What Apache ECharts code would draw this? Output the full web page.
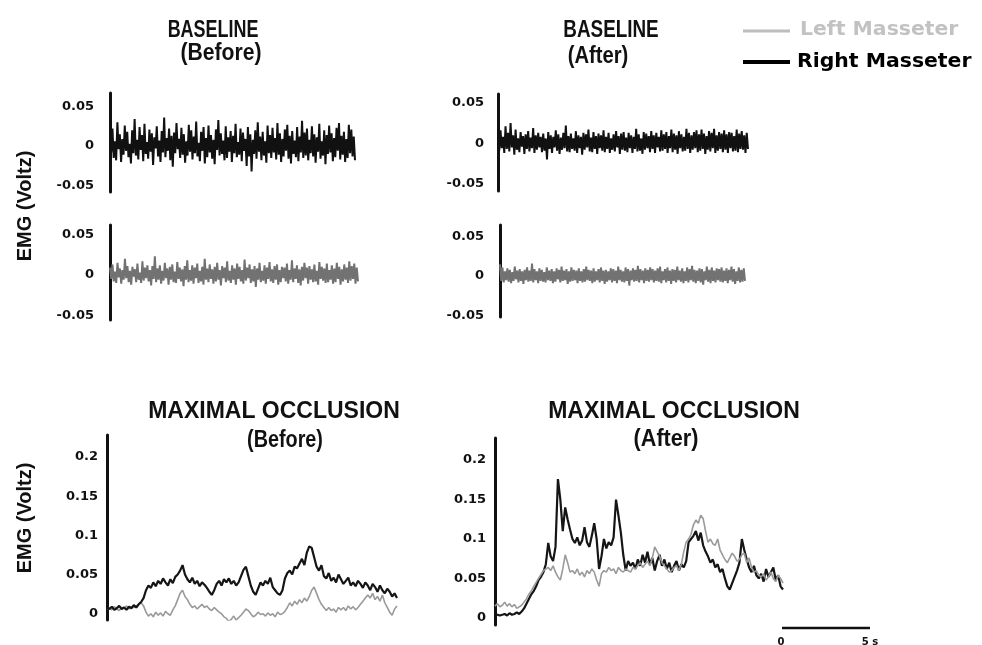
<!DOCTYPE html>
<html>
<head>
<meta charset="utf-8">
<script src="https://cdn.jsdelivr.net/npm/echarts@6/dist/echarts.min.js"></script>
<style>
  html, body { margin: 0; background: #fff; }
  #main { width: 982px; height: 645px; }
</style>
</head>
<body>
<div id="main"></div>
<script>
// EMG traces, values in mV (axis labels show volts)
const rightBaseBefore = [
  12,-8,22,-15,6,-18,30,-4,15,-20,9,-11,26,-6,18,-14,3,-22,20,-9,
  34,-12,8,-17,24,-5,14,-19,28,-10,5,-16,21,-7,16,-24,11,-3,25,-13,
  7,-20,19,-8,36,-14,10,-6,22,-18,13,-26,17,-9,29,-4,9,-15,23,-11,
  15,-21,6,-12,27,-7,20,-17,12,-9,31,-13,4,-19,18,-6,24,-22,10,-14,
  26,-8,14,-16,8,-23,21,-5,33,-12,16,-10,7,-18,25,-15,11,-7,19,-20,
  13,-9,28,-14,5,-11,22,-19,17,-6,9,-25,24,-13,15,-32,8,-10,20,-16,
  30,-7,12,-18,18,-12,6,-21,26,-9,14,-15,23,-8,10,-17,29,-11,16,-20,
  9,-13,21,-6,27,-16,13,-22,19,-10,7,-14,24,-19,12,-8,32,-15,17,-12,
  22,-18,8,-9,25,-13,15,-21,11,-7,28,-16,6,-12,20,-23,14,-10,26,-8,
  16,-19,10,-14,23,-6,29,-17,13,-11,18,-20,9,-15,27,-9,21,-13,12,-18
];
const leftBaseBefore = [
  9,-5,13,-8,4,-10,15,-3,8,-11,6,-6,20,-4,11,-9,5,-12,10,-2,
  7,-9,14,-6,3,-10,17,-7,9,-4,12,-8,6,-13,11,-5,23,-9,8,-6,
  12,-11,5,-7,15,-4,8,-12,10,-6,13,-9,4,-10,16,-5,9,-8,7,-14,
  11,-6,18,-9,6,-7,12,-11,9,-4,14,-10,5,-8,10,-12,20,-6,8,-9,
  13,-5,7,-11,10,-8,15,-6,6,-13,11,-4,9,-9,17,-7,5,-10,12,-6,
  8,-12,14,-5,10,-8,6,-11,19,-7,9,-4,13,-10,7,-8,11,-15,8,-6,
  15,-9,5,-7,12,-11,9,-5,16,-8,7,-10,11,-6,13,-12,6,-9,10,-4,
  9,-8,14,-11,6,-6,18,-9,8,-5,12,-10,7,-13,10,-7,15,-4,9,-11,
  11,-6,7,-9,13,-8,5,-12,16,-5,10,-7,8,-10,14,-9,6,-6,12,-11,
  8,-9,15,-5,10,-12,7,-8,13,-6,9,-10,17,-7,11,-5,14,-11,9,-8
];
const rightBaseAfter = [
  12,-9,16,-6,8,-12,21,-7,13,-10,25,-5,10,-14,17,-8,6,-11,14,-4,
  9,-13,11,-7,15,-10,7,-6,19,-12,10,-8,13,-5,8,-11,12,-9,6,-20,
  14,-7,10,-12,8,-5,16,-9,11,-13,7,-8,13,-6,22,-10,9,-11,12,-7,
  6,-9,15,-12,10,-6,8,-14,13,-8,11,-5,17,-10,7,-11,14,-7,9,-13,
  12,-6,10,-9,16,-11,8,-7,13,-12,6,-8,11,-10,15,-5,9,-13,12,-8,
  14,-9,7,-11,13,-6,10,-12,8,-7,18,-10,11,-9,6,-13,14,-8,12,-6,
  9,-11,15,-7,10,-12,13,-5,8,-10,16,-9,11,-7,14,-12,9,-6,17,-11,
  12,-8,10,-13,15,-6,11,-10,8,-9,18,-7,13,-12,10,-8,14,-6,16,-11,
  11,-9,17,-7,12,-13,9,-8,15,-10,13,-6,18,-12,10,-9,14,-7,12,-11,
  16,-8,11,-12,14,-6,13,-10,9,-9,17,-11,12,-7,15,-8,10,-12,13,-7
];
const leftBaseAfter = [
  15,-6,11,-8,6,-5,10,-7,8,-9,5,-6,12,-4,7,-8,9,-6,6,-10,
  8,-5,11,-7,7,-6,16,-8,9,-5,6,-9,10,-6,8,-7,5,-8,11,-5,
  7,-6,9,-9,6,-7,10,-4,8,-8,12,-6,7,-5,9,-10,6,-7,11,-6,
  8,-5,7,-9,10,-6,6,-8,9,-7,12,-5,8,-6,7,-9,10,-7,6,-5,
  9,-8,11,-6,7,-10,8,-7,6,-5,10,-8,9,-6,7,-9,12,-5,8,-7,
  6,-8,11,-6,9,-12,7,-5,10,-7,8,-6,13,-8,9,-5,7,-9,10,-6,
  8,-7,11,-5,9,-8,7,-6,10,-7,12,-9,6,-5,9,-8,11,-6,7,-10,
  9,-6,8,-8,12,-5,7,-7,10,-9,6,-6,11,-8,9,-5,13,-7,8,-9,
  7,-6,10,-8,9,-11,6,-5,12,-7,8,-9,11,-6,7,-8,10,-5,9,-7,
  11,-8,7,-6,10,-9,8,-5,12,-7,9,-10,6,-6,11,-8,8,-7,10,-6
];
const rightOcclBefore = [
  8,6,9,5,7,10,6,8,5,9,7,11,8,12,15,20,
  30,36,33,40,35,42,38,45,40,36,44,39,47,50,55,
  62,50,44,40,46,38,42,35,40,37,33,28,
  24,30,38,42,36,44,40,45,38,42,36,40,48,56,
  60,48,36,28,24,32,40,36,
  42,38,46,34,30,26,24,30,45,52,
  55,50,60,58,64,70,62,78,86,84,72,
  60,55,62,48,45,52,42,46,40,50,
  44,38,42,46,36,40,35,42,38,33,40,36,
  30,38,34,28,36,30,26,32,28,22,26,20
];
const leftOcclBefore = [
  6,8,5,9,6,4,8,7,10,6,9,8,10,12,14,10,
  2,-3,0,-4,2,-2,1,-3,3,0,-2,5,10,18,26,
  30,22,18,12,8,10,6,9,12,8,10,6,
  4,8,5,2,0,-4,-6,-10,-7,-3,-8,-5,-2,2,
  6,4,0,-4,-2,2,-1,0,
  -3,1,-2,0,-4,2,-1,0,3,8,
  14,10,16,12,18,14,20,16,22,30,34,
  26,18,12,8,4,8,4,6,2,8,
  5,8,4,10,6,9,5,8,12,16,20,24,
  20,26,18,22,16,24,14,8,2,-2,6,10
];
const rightOcclAfter = [
  5,4,3,4,5,3,6,4,5,7,5,8,
  12,18,24,30,34,40,48,52,58,68,
  95,78,72,90,176,150,110,140,125,112,
  100,95,102,92,98,115,96,90,104,120,100,62,
  78,100,88,96,92,102,150,130,108,80,60,72,66,
  70,62,74,66,80,70,84,68,76,60,72,80,66,74,
  62,70,58,66,72,60,68,64,72,96,100,104,110,
  98,108,92,84,78,70,74,64,68,58,62,50,40,
  36,44,52,60,70,100,86,74,64,58,66,54,
  50,56,46,62,52,58,64,48,54,40,36
];
const leftOcclAfter = [
  15,18,14,16,20,15,18,14,17,12,14,16,
  20,24,30,34,40,45,50,55,60,62,
  64,60,66,58,52,48,62,80,70,58,
  60,56,62,54,58,52,60,56,62,58,48,40,
  56,60,58,64,60,62,56,64,60,58,62,60,58,
  64,62,66,70,64,68,72,66,76,90,84,78,70,66,
  62,58,60,64,66,60,68,84,96,100,106,118,124,
  120,130,126,110,96,100,94,92,100,86,80,74,70,
  76,82,78,72,74,80,82,70,76,64,58,60,
  54,52,56,48,52,58,50,46,54,50,44
];

// tick values (mV) shown as volts
const baseTicks = [50, 0, -50];
const occlTicks = [200, 150, 100, 50, 0];

const chart = echarts.init(document.getElementById('main'));

const tickFont = 'DejaVu Sans';
const titleFont = "'Liberation Sans', Arial, sans-serif";

// one panel per grid: box, y range, how far the axis line sits left of the trace
const panels = [
  { box: { left: 110, top: 93, width: 245, height: 99 }, min: -58, max: 67, offset: 8, ticks: baseTicks, margin: 8,
    traces: [{ name: 'Right Masseter', data: rightBaseBefore, color: '#111', width: 2 }] },
  { box: { left: 110, top: 225, width: 248, height: 95 }, min: -56, max: 62, offset: 8, ticks: baseTicks, margin: 8,
    traces: [{ name: 'Left Masseter', data: leftBaseBefore, color: '#727272', width: 2 }] },
  { box: { left: 498, top: 94, width: 250, height: 97 }, min: -59, max: 61, offset: 6, ticks: baseTicks, margin: 8,
    traces: [{ name: 'Right Masseter', data: rightBaseAfter, color: '#111', width: 2 }] },
  { box: { left: 500, top: 225, width: 245, height: 92 }, min: -52, max: 65, offset: 8, ticks: baseTicks, margin: 8,
    traces: [{ name: 'Left Masseter', data: leftBaseAfter, color: '#727272', width: 2 }] },
  { box: { left: 107, top: 435, width: 290, height: 185 }, min: -8, max: 228, offset: 5, ticks: occlTicks, margin: 4,
    traces: [
      { name: 'Left Masseter', data: leftOcclBefore, color: '#9a9a9a', width: 1.6 },
      { name: 'Right Masseter', data: rightOcclBefore, color: '#151515', width: 2.2 }
    ] },
  { box: { left: 495, top: 438, width: 288, height: 187 }, min: -9, max: 228, offset: 5, ticks: occlTicks, margin: 4,
    traces: [
      { name: 'Right Masseter', data: rightOcclAfter, color: '#151515', width: 2.2 },
      { name: 'Left Masseter', data: leftOcclAfter, color: '#9a9a9a', width: 1.6 }
    ] }
];

const grids = [], xAxes = [], yAxes = [], series = [];
panels.forEach((p, k) => {
  grids.push(Object.assign({ containLabel: false }, p.box));
  xAxes.push({ gridIndex: k, type: 'value', min: 0, max: p.traces[0].data.length - 1, show: false });
  yAxes.push({
    gridIndex: k, type: 'value', min: p.min, max: p.max, offset: p.offset,
    axisLine: { show: true, lineStyle: { color: '#111', width: 3 } },
    axisTick: { show: false },
    splitLine: { show: false },
    axisLabel: {
      customValues: p.ticks,
      formatter: v => String(v / 1000),
      margin: p.margin, color: '#111', fontWeight: 'bold', fontSize: 13, fontFamily: tickFont
    }
  });
  p.traces.forEach(t => {
    series.push({
      name: t.name, type: 'line', xAxisIndex: k, yAxisIndex: k,
      data: t.data.map((v, i) => [i, v]),
      showSymbol: false, sampling: null, silent: true,
      lineStyle: { color: t.color, width: t.width }
    });
  });
});

// centred text, squeezed horizontally to mimic the condensed face of the figure
function label(text, x, y, font, sx, extra) {
  return Object.assign({
    type: 'text', x: x, y: y, scaleX: sx || 1, silent: true,
    style: { text: text, font: font, fill: '#111', textAlign: 'center', textVerticalAlign: 'middle' }
  }, extra || {});
}

const titleBig = 'bold 23px ' + titleFont;
const legendFont = "bold 20px 'DejaVu Sans', sans-serif";
const smallFont = "bold 10px 'DejaVu Sans', sans-serif";

chart.setOption({
  animation: false,
  backgroundColor: '#fff',
  grid: grids,
  xAxis: xAxes,
  yAxis: yAxes,
  series: series,
  graphic: [
    label('BASELINE', 213, 31, titleBig, 0.78),
    label('(Before)', 221, 54, titleBig, 0.92),
    label('BASELINE', 611, 31, titleBig, 0.82),
    label('(After)', 598, 57, titleBig, 0.88),
    label('MAXIMAL OCCLUSION', 274, 412, titleBig, 1),
    label('(Before)', 285, 441, titleBig, 0.86),
    label('MAXIMAL OCCLUSION', 674, 412, titleBig, 1),
    label('(After)', 666, 440, titleBig, 0.94),
    label('EMG (Voltz)', 25, 206, 'bold 20px ' + titleFont, 1, { rotation: Math.PI / 2 }),
    label('EMG (Voltz)', 25, 518, 'bold 20px ' + titleFont, 1, { rotation: Math.PI / 2 }),
    // legend
    { type: 'line', silent: true, shape: { x1: 743, y1: 31, x2: 790, y2: 31 }, style: { stroke: '#bdbdbd', lineWidth: 3 } },
    { type: 'line', silent: true, shape: { x1: 743, y1: 62, x2: 790, y2: 62 }, style: { stroke: '#000', lineWidth: 4 } },
    { type: 'text', silent: true, x: 800, y: 30, scaleX: 1.02,
      style: { text: 'Left Masseter', font: legendFont, fill: '#c2c2c2', textVerticalAlign: 'middle' } },
    { type: 'text', silent: true, x: 797, y: 62, scaleX: 1.02,
      style: { text: 'Right Masseter', font: legendFont, fill: '#000', textVerticalAlign: 'middle' } },
    // time scale bar
    { type: 'line', silent: true, shape: { x1: 782, y1: 628, x2: 870, y2: 628 }, style: { stroke: '#111', lineWidth: 2.5 } },
    label('0', 781, 642, smallFont),
    label('5 s', 870, 642, smallFont)
  ]
});

window.addEventListener('resize', () => {
  chart.resize();
});
</script>
</body>
</html>
